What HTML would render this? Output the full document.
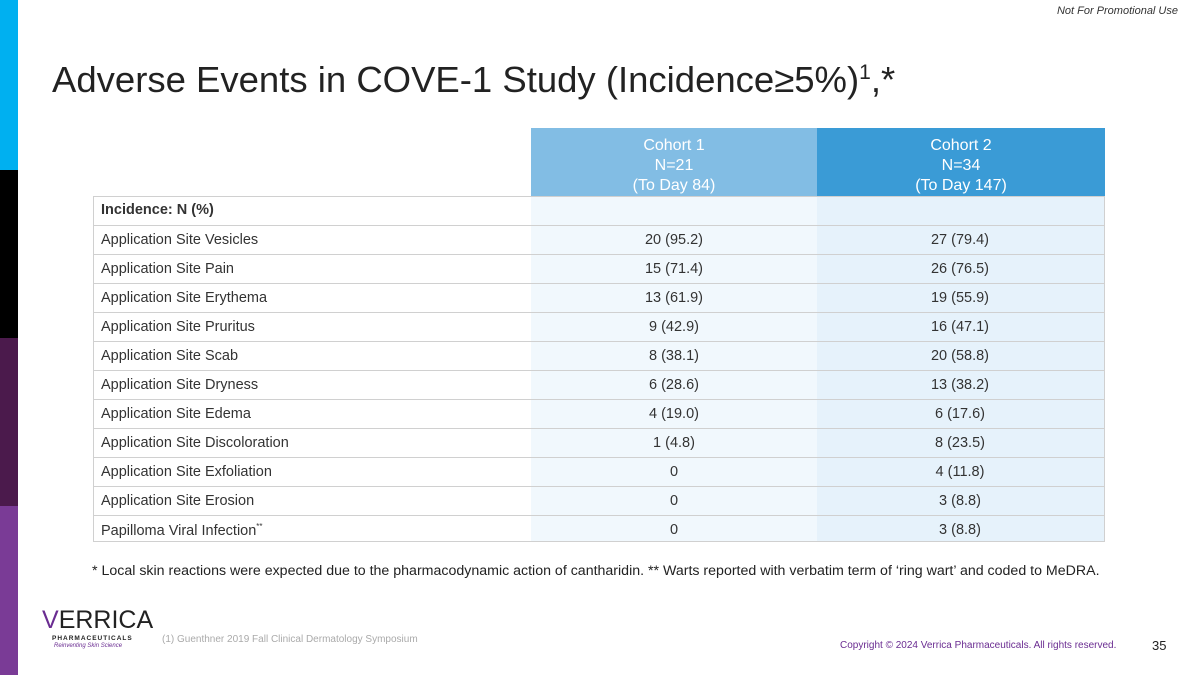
<!DOCTYPE html>
<html><head><meta charset="utf-8"><style>
body{margin:0;width:1200px;height:675px;overflow:hidden;background:#fff;font-family:"Liberation Sans",sans-serif;position:relative}
.abs{position:absolute}
.row{position:absolute;left:93px;width:1012px;height:29px;border-top:1px solid #d0d0d0;box-sizing:border-box}
.lbl{position:absolute;left:8px;top:6px;font-size:14.5px;color:#333}
.v{position:absolute;top:6px;font-size:14.5px;color:#333;width:286px;text-align:center}
</style></head><body>
<div class="abs" style="left:0;top:0;width:18px;height:170px;background:#00b0f0"></div>
<div class="abs" style="left:0;top:170px;width:18px;height:168px;background:#000"></div>
<div class="abs" style="left:0;top:338px;width:18px;height:168px;background:#4b1a4c"></div>
<div class="abs" style="left:0;top:506px;width:18px;height:169px;background:#7a3b96"></div>
<div class="abs" style="right:22px;top:5px;font-size:11px;font-style:italic;color:#333">Not For Promotional Use</div>
<div class="abs" style="left:52px;top:59px;font-size:36.5px;color:#222;white-space:nowrap">Adverse Events in COVE-1 Study (Incidence≥5%)<sup style="font-size:21px">1</sup>,*</div>
<div class="abs" style="left:531px;top:128px;width:286px;height:68px;background:#82bde4;color:#fff;text-align:center;font-size:16px;line-height:20px;padding-top:8px;box-sizing:border-box">Cohort 1<br>N=21<br>(To Day 84)</div>
<div class="abs" style="left:817px;top:128px;width:288px;height:68px;background:#3a9bd6;color:#fff;text-align:center;font-size:16px;line-height:20px;padding-top:8px;box-sizing:border-box">Cohort 2<br>N=34<br>(To Day 147)</div>
<div class="abs" style="left:531px;top:196px;width:286px;height:346px;background:#f1f8fd"></div>
<div class="abs" style="left:817px;top:196px;width:288px;height:346px;background:#e6f2fb"></div>
<div class="abs" style="left:93px;top:196px;width:1012px;height:346px;border:1px solid #d0d0d0;box-sizing:border-box"></div>
<div id="rows"></div>
<div class="abs" style="left:92px;top:563px;font-size:14.2px;color:#222;white-space:nowrap">* Local skin reactions were expected due to the pharmacodynamic action of cantharidin. ** Warts reported with verbatim term of ‘ring wart’ and coded to MeDRA.</div>
<div class="abs" style="left:42px;top:602px;width:100px;height:50px">
<div style="position:absolute;left:0;top:4px;font-size:25px;color:#222;letter-spacing:0px"><span style="color:#6a2c91">V</span>ERRICA</div>
<div style="position:absolute;left:10px;top:33px;font-size:6.5px;font-weight:bold;color:#222;letter-spacing:1px">PHARMACEUTICALS</div>
<div style="position:absolute;left:12px;top:41px;font-size:6px;font-style:italic;color:#6a2c91">Reinventing Skin Science</div></div>
<div class="abs" style="left:162px;top:634px;font-size:10px;color:#aaa">(1) Guenthner 2019 Fall Clinical Dermatology Symposium</div>
<div class="abs" style="left:840px;top:640px;font-size:10px;color:#6a2c91">Copyright © 2024 Verrica Pharmaceuticals. All rights reserved.</div>
<div class="abs" style="left:1152px;top:638px;font-size:13px;color:#222">35</div>
<script>
const labels=["Application Site Vesicles","Application Site Pain","Application Site Erythema","Application Site Pruritus","Application Site Scab","Application Site Dryness","Application Site Edema","Application Site Discoloration","Application Site Exfoliation","Application Site Erosion","Papilloma Viral Infection"];
const cohort1=["20 (95.2)","15 (71.4)","13 (61.9)","9 (42.9)","8 (38.1)","6 (28.6)","4 (19.0)","1 (4.8)","0","0","0"];
const cohort2=["27 (79.4)","26 (76.5)","19 (55.9)","16 (47.1)","20 (58.8)","13 (38.2)","6 (17.6)","8 (23.5)","4 (11.8)","3 (8.8)","3 (8.8)"];
const c=document.getElementById('rows');
const h=document.createElement('div');h.className='row';h.style.top='196px';h.style.borderTop='none';


h.innerHTML='<div class="lbl" style="font-weight:bold">Incidence: N (%)</div>';c.appendChild(h);
labels.forEach((l,i)=>{const r=document.createElement('div');r.className='row';r.style.top=(225+i*29)+'px';


r.innerHTML='<div class="lbl">'+l+(i==10?'<sup style="font-size:8px">**</sup>':'')+'</div><div class="v" style="left:438px">'+cohort1[i]+'</div><div class="v" style="left:724px">'+cohort2[i]+'</div>';c.appendChild(r);});
</script>
</body></html>
